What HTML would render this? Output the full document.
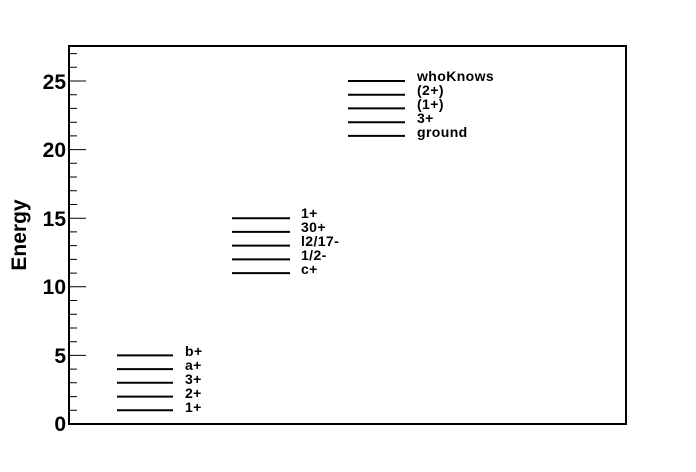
<!DOCTYPE html>
<html><head><style>html,body{margin:0;padding:0;background:#fff}svg{display:block}</style></head>
<body>
<svg width="696" height="472" viewBox="0 0 696 472" xmlns="http://www.w3.org/2000/svg" font-family="Liberation Sans, sans-serif" font-weight="bold">
<rect x="69" y="46" width="557" height="378" fill="none" stroke="#000" stroke-width="2"/>
<path stroke="#000" stroke-width="1" fill="none" d="
M69 410.3H77 M69 396.6H77 M69 382.8H77 M69 369.1H77 M69 355.4H86
M69 341.7H77 M69 328H77 M69 314.2H77 M69 300.5H77 M69 286.8H86
M69 273.1H77 M69 259.4H77 M69 245.6H77 M69 231.9H77 M69 218.2H86
M69 204.5H77 M69 190.8H77 M69 177H77 M69 163.3H77 M69 149.6H86
M69 135.9H77 M69 122.2H77 M69 108.4H77 M69 94.7H77 M69 81H86
M69 67.3H77 M69 53.6H77"/>
<g font-size="21" text-anchor="end">
<text x="66" y="431">0</text>
<text x="66" y="363">5</text>
<text x="66" y="294">10</text>
<text x="66" y="226">15</text>
<text x="66" y="157">20</text>
<text x="66" y="89">25</text>
</g>
<text font-size="21" transform="translate(26,235) rotate(-90)" text-anchor="middle">Energy</text>
<g stroke="#000" stroke-width="2">
<path d="M117 410.3H173 M117 396.6H173 M117 382.8H173 M117 369.1H173 M117 355.4H173"/>
<path d="M232 273.1H290 M232 259.4H290 M232 245.6H290 M232 231.9H290 M232 218.2H290"/>
<path d="M348 135.9H405 M348 122.2H405 M348 108.4H405 M348 94.7H405 M348 81H405"/>
</g>
<g font-size="14" letter-spacing="0.4">
<text x="185" y="412">1+</text>
<text x="185" y="398">2+</text>
<text x="185" y="384">3+</text>
<text x="185" y="370">a+</text>
<text x="185" y="356">b+</text>
<text x="301" y="274">c+</text>
<text x="301" y="260">1/2-</text>
<text x="301" y="246">l2/17-</text>
<text x="301" y="232">30+</text>
<text x="301" y="218">1+</text>
<text x="417" y="137">ground</text>
<text x="417" y="123">3+</text>
<text x="417" y="109">(1+)</text>
<text x="417" y="95">(2+)</text>
<text x="417" y="81">whoKnows</text>
</g>
</svg>
</body></html>
